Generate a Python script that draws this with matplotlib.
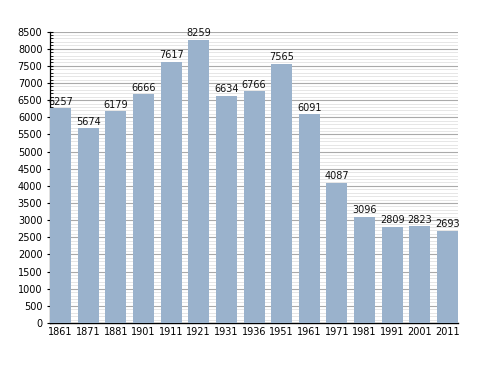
import matplotlib
matplotlib.use("Agg")
import matplotlib.pyplot as plt
from matplotlib.ticker import MultipleLocator

years = ["1861", "1871", "1881", "1901", "1911", "1921", "1931", "1936",
         "1951", "1961", "1971", "1981", "1991", "2001", "2011"]
population = [6257, 5674, 6179, 6666, 7617, 8259, 6634, 6766,
              7565, 6091, 4087, 3096, 2809, 2823, 2693]

fig = plt.figure(figsize=(4.88, 3.73), dpi=100)
ax = fig.add_axes([0.1025, 0.134, 0.836, 0.7815])

x = list(range(len(years)))
w = 0.76
ax.bar(x, population, width=w, color="#9ab2cc", zorder=3)
for xi, v in zip(x, population):
    ax.text(xi, v + 40, str(v), ha="center", va="bottom", fontsize=7, color="#111111", zorder=4)

ax.set_xlim(-w / 2, len(years) - 1 + w / 2)
ax.set_ylim(0, 8500)
ax.set_xticks(x)
ax.set_xticklabels(years, fontsize=7)
ax.yaxis.set_major_locator(MultipleLocator(500))
ax.yaxis.set_minor_locator(MultipleLocator(100))
ax.tick_params(axis="y", which="major", labelsize=7, length=4, width=0.8, direction="inout")
ax.tick_params(axis="y", which="minor", length=2, width=0.6, direction="in")
ax.tick_params(axis="x", length=0, pad=3)
ax.grid(axis="y", which="major", color="#aaaaaa", linewidth=0.8, zorder=1)
ax.grid(axis="y", which="minor", color="#e2e2e2", linewidth=0.6, zorder=1)
for s in ["top", "right"]:
    ax.spines[s].set_visible(False)
ax.spines["left"].set_linewidth(0.9)
ax.spines["bottom"].set_linewidth(1.0)

fig.savefig("out.png", dpi=100)
